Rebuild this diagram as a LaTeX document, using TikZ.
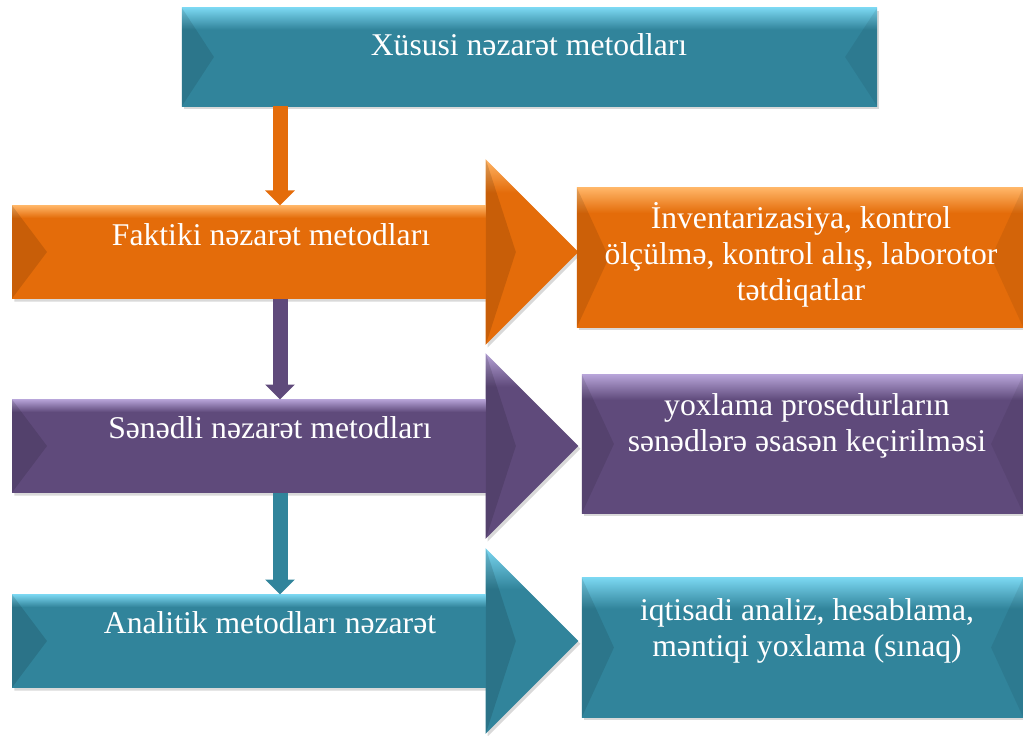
\documentclass[tikz,border=0pt]{standalone}
\usepackage{fontspec}
\setmainfont{Liberation Serif}
\usetikzlibrary{shapes.arrows,arrows.meta,shadows,calc}

\definecolor{tealc}{HTML}{31849B}
\definecolor{tealt}{HTML}{7AD6F0}
\definecolor{orangec}{HTML}{E46C0A}
\definecolor{oranget}{HTML}{FFB566}
\definecolor{purplec}{HTML}{5F4A7B}
\definecolor{purplet}{HTML}{B5A2D6}

\pgfdeclareverticalshading{tealbox}{100bp}{color(0bp)=(tealc); color(25bp)=(tealc); color(64bp)=(tealc); color(75bp)=(tealt); color(100bp)=(tealt)}
\pgfdeclareverticalshading{orangebox}{100bp}{color(0bp)=(orangec); color(25bp)=(orangec); color(66bp)=(orangec); color(75bp)=(oranget); color(100bp)=(oranget)}
\pgfdeclareverticalshading{purplebox}{100bp}{color(0bp)=(purplec); color(25bp)=(purplec); color(66bp)=(purplec); color(75bp)=(purplet); color(100bp)=(purplet)}

\begin{document}
\begin{tikzpicture}[x=0.025cm,y=-0.025cm]
    \tikzstyle{every node}+=[inner sep=0pt]
    \tikzstyle{txt}=[text=white,font=\fontsize{22.5}{25.6}\selectfont,align=center]
    \tikzstyle{shade box}=[drop shadow={shadow xshift=0.05cm,shadow yshift=-0.07cm,opacity=0.3}]
    \tikzstyle{bevel}=[path picture={
        \fill[black,opacity=0.10] (path picture bounding box.north west) -- ($(path picture bounding box.west)+(32,0)$) -- (path picture bounding box.south west) -- cycle;
        \fill[black,opacity=0.07] (path picture bounding box.north east) -- ($(path picture bounding box.east)+(-32,0)$) -- (path picture bounding box.south east) -- cycle;}]
    \tikzstyle{bigarrow}=[shade box,single arrow,inner xsep=0pt,inner ysep=1.1625cm,minimum height=14.15cm,
        single arrow head extend=1.15cm,single arrow tip angle=90,anchor=tail]
    \tikzstyle{down}=[line width=0.375cm,-{Triangle[width=0.725cm,length=0.375cm]}]
    \useasboundingbox (0,0) rectangle (1023,735);

    \node[shade box,bevel,shading=tealbox,minimum width=17.375cm,minimum height=2.45cm] (top) at (529.5,57) {};
    \node[txt,anchor=base] (top-t) at (529,56) {Xüsusi nəzarət metodları};

    \node[bigarrow,shading=orangebox] (fakt) at (12,252) {};
    \node[bigarrow,shading=purplebox] (sened) at (12,446) {};
    \node[bigarrow,shading=tealbox] (anal) at (12,641) {};
    \foreach \a/\c in {fakt/orange,sened/purple,anal/teal} {
        \coordinate (\a-top) at ($(\a.tail)+(0,-46.5)$);
        \coordinate (\a-bot) at ($(\a.tail)+(0,46.5)$);
        \shade[top color=\c t,bottom color=\c c] (\a-top) rectangle ($(\a.tip)+(-93,-34)$);
        \fill[black,opacity=0.12] (\a-top) -- ($(\a.tail)+(35,0)$) -- (\a-bot) -- cycle;
        \fill[black,opacity=0.12] ($(\a.tip)+(-93,-92.5)$) -- ($(\a.tip)+(-63,0)$) -- ($(\a.tip)+(-93,92.5)$) -- cycle;
    }
    \node[txt,anchor=base] (fakt-t) at (271,245) {Faktiki nəzarət metodları};
    \node[txt,anchor=base] (sened-t) at (270,438) {Sənədli nəzarət metodları};
    \node[txt,anchor=base] (anal-t) at (270,633) {Analitik metodları nəzarət};

    \node[shade box,bevel,shading=orangebox,minimum width=11.15cm,minimum height=3.475cm] (fakt-b) at (800,257.5) {};
    \node[txt] (fakt-bt) at (801,255) {İnventarizasiya, kontrol\\ölçülmə, kontrol alış, laborotor\\tətdiqatlar};
    \node[shade box,bevel,shading=purplebox,minimum width=11.025cm,minimum height=3.45cm] (sened-b) at (802.5,444) {};
    \node[txt] (sened-bt) at (807,426) {yoxlama prosedurların\\sənədlərə əsasən keçirilməsi};
    \node[shade box,bevel,shading=tealbox,minimum width=11.025cm,minimum height=3.475cm] (anal-b) at (802.5,647.5) {};
    \node[txt] (anal-bt) at (807,631) {iqtisadi analiz, hesablama,\\məntiqi yoxlama (sınaq)};

    \coordinate (col) at (280,0);
    \draw[down,orangec] (top.south -| col) -- (fakt-top -| col);
    \draw[down,purplec] (fakt-bot -| col) -- (sened-top -| col);
    \draw[down,tealc] (sened-bot -| col) -- (anal-top -| col);
\end{tikzpicture}
\end{document}
